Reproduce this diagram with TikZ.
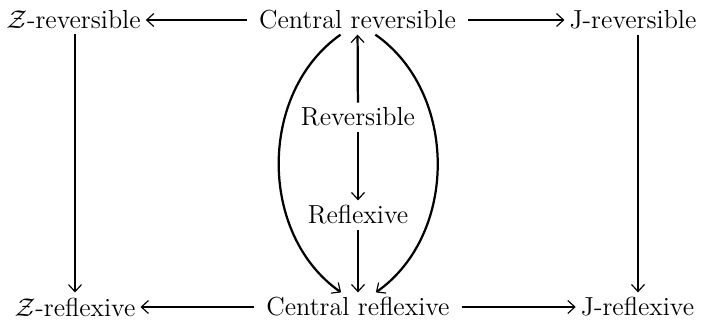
\documentclass[tikz,border=0pt]{standalone}
\usepackage{amsmath,amssymb}
\usepackage{tikz}
\usetikzlibrary{positioning,arrows.meta}

\begin{document}
\begin{tikzpicture}[x=0.01496cm, y=-0.01496cm,
  >={Straight Barb[length=3pt,width=5.5pt,line width=0.5pt]},
  cls/.style={inner sep=2pt, font=\fontsize{11.1}{13}\selectfont},
  imp/.style={->, line width=0.95pt},
  himp/.style={imp, shorten <=3pt}]
\useasboundingbox (0,0) rectangle (704,325);
\node[cls] (zrev) at (73.5,20) {$\mathcal{Z}$-reversible};
\node[cls] (crev) at (357.5,20) {Central reversible};
\node[cls] (jrev) at (633,20) {J-reversible};
\node[cls] (rev) at (358,117) {Reversible};
\node[cls] (refl) at (358,215) {Reflexive};
\node[cls] (zrefl) at (75,307) {$\mathcal{Z}$-reflexive};
\node[cls] (crefl) at (358,307) {Central reflexive};
\node[cls] (jrefl) at (637.5,307) {J-reflexive};
% top row
\draw[himp] (crev) -- (zrev);
\draw[himp] (crev) -- (jrev);
% bottom row
\draw[himp] (crefl) -- (zrefl);
\draw[himp] (crefl) -- (jrefl);
% sides
\draw[imp] (zrev.south -| 75,0) -- (zrefl.north -| 75,0);
\draw[imp] (jrev.south -| 638,0) -- (jrefl.north -| 638,0);
% middle
\draw[imp] (rev) -- (crev);
\draw[imp] (rev) -- (refl);
\draw[imp] (refl) -- (crefl);
\draw[imp] ([xshift=-7.2pt]crev.south) to[bend right=55] ([xshift=-7.2pt]crefl.north);
\draw[imp] ([xshift=7.6pt]crev.south) to[bend left=55] ([xshift=7.6pt]crefl.north);
\end{tikzpicture}
\end{document}
